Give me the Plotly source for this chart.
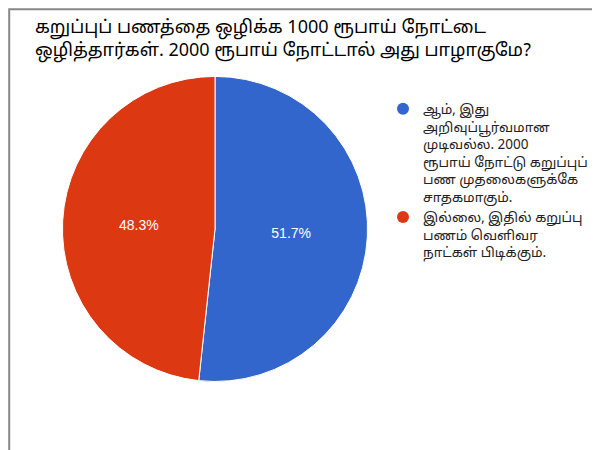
import plotly.graph_objects as go

labels = ["ஆம், இது<br>அறிவுப்பூர்வமான<br>முடிவல்ல. 2000<br>ரூபாய் நோட்டு கறுப்புப்<br>பண முதலைகளுக்கே<br>சாதகமாகும்.",
          "இல்லை, இதில் கறுப்பு<br>பணம் வெளிவர<br>நாட்கள் பிடிக்கும்."]
values = [51.7, 48.3]
colors = ["#3366cc", "#dc3912"]
title = "கறுப்புப் பணத்தை ஒழிக்க 1000 ரூபாய் நோட்டை<br>ஒழித்தார்கள். 2000 ரூபாய் நோட்டால் அது பாழாகுமே?"

fig = go.Figure()
fig.add_trace(go.Pie(labels=labels, values=values, sort=False, direction="clockwise", rotation=0,
                     marker=dict(colors=colors, line=dict(color="white", width=1)),
                     texttemplate="%{value:.1f}%", textposition="inside",
                     textfont=dict(color="white", size=14, family="Arial"),
                     insidetextorientation="horizontal",
                     domain=dict(x=[0.07, 0.62], y=[0.17, 0.848]), showlegend=False, hoverinfo="none"))
for l, c in zip(labels, colors):
    fig.add_trace(go.Scatter(x=[None], y=[None], mode="markers", name=l,
                             marker=dict(symbol="circle", size=14, color=c)))
fig.update_layout(
    width=600, height=450, paper_bgcolor="white", plot_bgcolor="white",
    margin=dict(l=0, r=0, t=0, b=0),
    xaxis=dict(visible=False), yaxis=dict(visible=False),
    title=dict(text=title, x=0.045, xanchor="left", y=0.945, yanchor="top",
               font=dict(size=18, color="black", family="Noto Sans Tamil, Noto Sans, Arial")),
    legend=dict(x=0.625, y=0.81, xanchor="left", yanchor="top", valign="top",
                font=dict(size=13.5, color="#222222", family="Noto Sans Tamil, Noto Sans, Arial"),
                tracegroupgap=6, itemsizing="constant"),
    shapes=[dict(type="rect", xref="paper", yref="paper", x0=0.002, y0=0.003, x1=0.998, y1=0.997,
                 line=dict(color="#888888", width=2))],
)
fig.write_html("out.html")
